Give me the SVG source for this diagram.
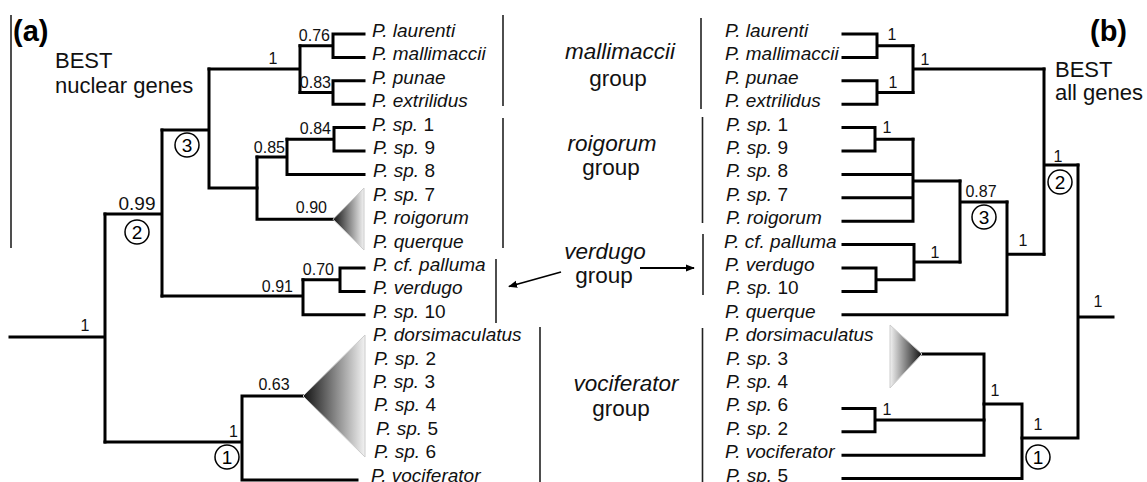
<svg xmlns="http://www.w3.org/2000/svg" width="1147" height="482" viewBox="0 0 1147 482">
  <style>
    .br { fill: none; stroke: #000; stroke-width: 3; stroke-linecap: square; stroke-linejoin: miter; }
    .sep { fill: none; stroke: #222; stroke-width: 1.6; }
    .arr { fill: none; stroke: #000; stroke-width: 1.8; }
    .tx { font-family: "Liberation Sans", Arial, sans-serif; font-size: 19px; fill: #111; }
    .it { font-style: italic; }
    .sup { font-family: "Liberation Sans", Arial, sans-serif; font-size: 16px; fill: #111; }
    .grp { font-family: "Liberation Sans", Arial, sans-serif; font-size: 22.5px; fill: #111; text-anchor: middle; }
    .ttl { font-family: "Liberation Sans", Arial, sans-serif; font-size: 22px; fill: #111; }
    .pan { font-family: "Liberation Sans", Arial, sans-serif; font-size: 29px; font-weight: bold; fill: #000; }
    .ring { fill: #fff; stroke: #000; stroke-width: 1.5; }
    .num { font-family: "Liberation Sans", Arial, sans-serif; font-size: 19px; fill: #000; text-anchor: middle; }
  </style>
  <defs>
    <linearGradient id="fadeR" x1="0" y1="0" x2="1" y2="0">
      <stop offset="0" stop-color="#111"/>
      <stop offset="1" stop-color="#f2f2f2"/>
    </linearGradient>
    <linearGradient id="fadeL" x1="1" y1="0" x2="0" y2="0">
      <stop offset="0" stop-color="#111"/>
      <stop offset="1" stop-color="#f2f2f2"/>
    </linearGradient>
    <marker id="head" viewBox="0 0 10 10" refX="9" refY="5" markerWidth="9" markerHeight="9" markerUnits="userSpaceOnUse" orient="auto">
      <path d="M0,1 L10,5 L0,9 Z" fill="#000"/>
    </marker>
  </defs>
  <rect width="1147" height="482" fill="#fff"/>

  <!-- panel captions -->
  <g id="panel-a">
    <text class="pan" x="13" y="41">(a)</text>
    <text class="ttl" x="55" y="68">BEST</text>
    <text class="ttl" x="55" y="93">nuclear genes</text>
  </g>
  <g id="panel-b">
    <text class="pan" x="1090" y="41">(b)</text>
    <text class="ttl" x="1055" y="77">BEST</text>
    <text class="ttl" x="1055" y="100">all genes</text>
  </g>

  <!-- connectors: tree branches, collapsed clades, group brackets and arrows -->
  <g id="connectors">
    <!-- tree (a) -->
    <path class="br" d="M364,34 H333 V57.4 H364 M333,45.7 H300"/>
    <path class="br" d="M364,80.8 H333 V104.2 H364 M333,92.5 H300"/>
    <path class="br" d="M300,45.7 V92.5 M300,69.1 H209"/>
    <path class="br" d="M364,127.6 H334 V151 H364 M334,139.3 H287"/>
    <path class="br" d="M287,139.3 V174.4 H364 M287,156.9 H257"/>
    <path class="br" d="M257,156.9 V219.3 H333"/>
    <path class="br" d="M257,188 H209 M209,69.1 V188 M209,130 H162"/>
    <path class="br" d="M364,268 H340 V291.4 H364 M340,279.7 H303"/>
    <path class="br" d="M303,279.7 V314.8 H364 M303,296 H162"/>
    <path class="br" d="M162,130 V296 M162,214 H105"/>
    <path class="br" d="M105,214 V442 M105,337 H10"/>
    <path class="br" d="M105,442 H242 M242,396 V480 H357 M242,396 H303"/>
    <polygon points="333,219.3 364,188 364,250" fill="url(#fadeR)" stroke="#ccc" stroke-width="1"/>
    <polygon points="303,396 365,335 365,457" fill="url(#fadeR)" stroke="#ccc" stroke-width="1"/>

    <!-- tree (b) -->
    <path class="br" d="M843,34 H877 V57.4 H843 M877,45.7 H913"/>
    <path class="br" d="M843,80.8 H877 V104.2 H843 M877,92.5 H913"/>
    <path class="br" d="M913,45.7 V92.5 M913,69.1 H1044"/>
    <path class="br" d="M843,127.6 H875 V151 H843 M875,139.3 H913"/>
    <path class="br" d="M913,139.3 V221.2 H843 M843,174.4 H913 M843,197.8 H913 M913,181 H960"/>
    <path class="br" d="M843,244.6 H914 V279.7 M843,268 H876 V291.4 H843 M876,279.7 H914 M914,262 H960"/>
    <path class="br" d="M960,181 V262 M960,202 H1007"/>
    <path class="br" d="M1007,202 V314.8 H843 M1007,254.3 H1044"/>
    <path class="br" d="M1044,69.1 V254.3 M1044,165 H1078"/>
    <path class="br" d="M1078,165 V438 M1078,317 H1113 M1078,438 H1022"/>
    <path class="br" d="M1022,404 V478.6 H843 M1022,404 H984"/>
    <path class="br" d="M984,354 V455.2 H843 M984,354 H922"/>
    <path class="br" d="M843,408.4 H875 V431.8 H843 M875,420 H984"/>
    <polygon points="922,354 890,325 890,388" fill="url(#fadeL)" stroke="#ccc" stroke-width="1"/>

    <!-- group brackets -->
    <path class="sep" d="M11,15 V248"/>
    <path class="sep" d="M503,15 V106 M503,118 V248 M496,259 V323 M540,327 V482"/>
    <path class="sep" d="M701,18 V109 M702.5,117 V223 M703,234 V295 M702.5,328 V482"/>
    <path class="arr" d="M561,272 L509,286.5" marker-end="url(#head)"/>
    <path class="arr" d="M640,268 L694,268" marker-end="url(#head)"/>
  </g>

  <!-- support values, tree (a) -->
  <g id="support-a" class="sup">
    <text x="330" y="41" text-anchor="end">0.76</text>
    <text x="331" y="88" text-anchor="end">0.83</text>
    <text x="273" y="64" text-anchor="middle">1</text>
    <text x="331" y="134" text-anchor="end">0.84</text>
    <text x="285" y="153" text-anchor="end">0.85</text>
    <text x="327" y="213" text-anchor="end">0.90</text>
    <text x="334" y="275" text-anchor="end">0.70</text>
    <text x="293" y="292" text-anchor="end">0.91</text>
    <text x="137" y="210" text-anchor="middle" style="font-size:19px">0.99</text>
    <text x="85" y="331" text-anchor="middle">1</text>
    <text x="274" y="390" text-anchor="middle">0.63</text>
    <text x="238" y="437" text-anchor="end">1</text>
  </g>

  <!-- support values, tree (b) -->
  <g id="support-b" class="sup" text-anchor="middle">
    <text x="892" y="40">1</text>
    <text x="893" y="88">1</text>
    <text x="925" y="65">1</text>
    <text x="887" y="133">1</text>
    <text x="1058" y="162">1</text>
    <text x="981" y="197">0.87</text>
    <text x="935" y="258">1</text>
    <text x="1023" y="246">1</text>
    <text x="1098" y="307">1</text>
    <text x="995" y="396">1</text>
    <text x="887" y="415">1</text>
    <text x="1038" y="430">1</text>
  </g>

  <!-- numbered clades -->
  <g id="clade-a3"><circle class="ring" cx="187" cy="145" r="12"/><text class="num" x="187" y="152">3</text></g>
  <g id="clade-a2"><circle class="ring" cx="137" cy="232" r="12"/><text class="num" x="137" y="239">2</text></g>
  <g id="clade-a1"><circle class="ring" cx="227" cy="457" r="12"/><text class="num" x="227" y="464">1</text></g>
  <g id="clade-b2"><circle class="ring" cx="1060" cy="182" r="12"/><text class="num" x="1060" y="189">2</text></g>
  <g id="clade-b3"><circle class="ring" cx="984" cy="217" r="12"/><text class="num" x="984" y="224">3</text></g>
  <g id="clade-b1"><circle class="ring" cx="1038" cy="457" r="12"/><text class="num" x="1038" y="464">1</text></g>

  <!-- group names -->
  <g id="group-mallimaccii"><text class="grp" x="620" y="59"><tspan class="it">mallimaccii</tspan></text><text class="grp" x="618" y="86">group</text></g>
  <g id="group-roigorum"><text class="grp" x="612" y="151"><tspan class="it">roigorum</tspan></text><text class="grp" x="611" y="175">group</text></g>
  <g id="group-verdugo"><text class="grp" x="605" y="259"><tspan class="it">verdugo</tspan></text><text class="grp" x="604" y="283">group</text></g>
  <g id="group-vociferator"><text class="grp" x="626" y="391"><tspan class="it">vociferator</tspan></text><text class="grp" x="621" y="416">group</text></g>

  <!-- taxa, tree (a) -->
  <g id="taxa-a" class="tx">
    <g id="a-laurenti"><text x="372" y="37"><tspan class="it">P. laurenti</tspan></text></g>
    <g id="a-mallimaccii"><text x="372" y="60.4"><tspan class="it">P. mallimaccii</tspan></text></g>
    <g id="a-punae"><text x="372" y="83.8"><tspan class="it">P. punae</tspan></text></g>
    <g id="a-extrilidus"><text x="372" y="107.2"><tspan class="it">P. extrilidus</tspan></text></g>
    <g id="a-sp1"><text x="372" y="130.6"><tspan class="it">P. sp.</tspan> 1</text></g>
    <g id="a-sp9"><text x="373" y="154"><tspan class="it">P. sp.</tspan> 9</text></g>
    <g id="a-sp8"><text x="373" y="177.4"><tspan class="it">P. sp.</tspan> 8</text></g>
    <g id="a-sp7"><text x="373" y="200.8"><tspan class="it">P. sp.</tspan> 7</text></g>
    <g id="a-roigorum"><text x="373" y="224.2"><tspan class="it">P. roigorum</tspan></text></g>
    <g id="a-querque"><text x="373" y="247.6"><tspan class="it">P. querque</tspan></text></g>
    <g id="a-palluma"><text x="373" y="271"><tspan class="it">P. cf. palluma</tspan></text></g>
    <g id="a-verdugo"><text x="373" y="294.4"><tspan class="it">P. verdugo</tspan></text></g>
    <g id="a-sp10"><text x="373" y="317.8"><tspan class="it">P. sp.</tspan> 10</text></g>
    <g id="a-dorsimaculatus"><text x="373" y="341.2"><tspan class="it">P. dorsimaculatus</tspan></text></g>
    <g id="a-sp2"><text x="374" y="364.6"><tspan class="it">P. sp.</tspan> 2</text></g>
    <g id="a-sp3"><text x="373" y="388"><tspan class="it">P. sp.</tspan> 3</text></g>
    <g id="a-sp4"><text x="374" y="411.4"><tspan class="it">P. sp.</tspan> 4</text></g>
    <g id="a-sp5"><text x="376" y="434.8"><tspan class="it">P. sp.</tspan> 5</text></g>
    <g id="a-sp6"><text x="374" y="458.2"><tspan class="it">P. sp.</tspan> 6</text></g>
    <g id="a-vociferator"><text x="371" y="481.6"><tspan class="it">P. vociferator</tspan></text></g>
  </g>

  <!-- taxa, tree (b) -->
  <g id="taxa-b" class="tx">
    <g id="b-laurenti"><text x="725" y="37"><tspan class="it">P. laurenti</tspan></text></g>
    <g id="b-mallimaccii"><text x="725" y="60.4"><tspan class="it">P. mallimaccii</tspan></text></g>
    <g id="b-punae"><text x="725" y="83.8"><tspan class="it">P. punae</tspan></text></g>
    <g id="b-extrilidus"><text x="725" y="107.2"><tspan class="it">P. extrilidus</tspan></text></g>
    <g id="b-sp1"><text x="726" y="130.6"><tspan class="it">P. sp.</tspan> 1</text></g>
    <g id="b-sp9"><text x="726" y="154"><tspan class="it">P. sp.</tspan> 9</text></g>
    <g id="b-sp8"><text x="726" y="177.4"><tspan class="it">P. sp.</tspan> 8</text></g>
    <g id="b-sp7"><text x="726" y="200.8"><tspan class="it">P. sp.</tspan> 7</text></g>
    <g id="b-roigorum"><text x="726" y="224.2"><tspan class="it">P. roigorum</tspan></text></g>
    <g id="b-palluma"><text x="724" y="247.6"><tspan class="it">P. cf. palluma</tspan></text></g>
    <g id="b-verdugo"><text x="725" y="271"><tspan class="it">P. verdugo</tspan></text></g>
    <g id="b-sp10"><text x="726" y="294.4"><tspan class="it">P. sp.</tspan> 10</text></g>
    <g id="b-querque"><text x="725" y="317.8"><tspan class="it">P. querque</tspan></text></g>
    <g id="b-dorsimaculatus"><text x="725" y="341.2"><tspan class="it">P. dorsimaculatus</tspan></text></g>
    <g id="b-sp3"><text x="726" y="364.6"><tspan class="it">P. sp.</tspan> 3</text></g>
    <g id="b-sp4"><text x="726" y="388"><tspan class="it">P. sp.</tspan> 4</text></g>
    <g id="b-sp6"><text x="726" y="411.4"><tspan class="it">P. sp.</tspan> 6</text></g>
    <g id="b-sp2"><text x="726" y="434.8"><tspan class="it">P. sp.</tspan> 2</text></g>
    <g id="b-vociferator"><text x="725" y="458.2"><tspan class="it">P. vociferator</tspan></text></g>
    <g id="b-sp5"><text x="726" y="481.6"><tspan class="it">P. sp.</tspan> 5</text></g>
  </g>
</svg>
